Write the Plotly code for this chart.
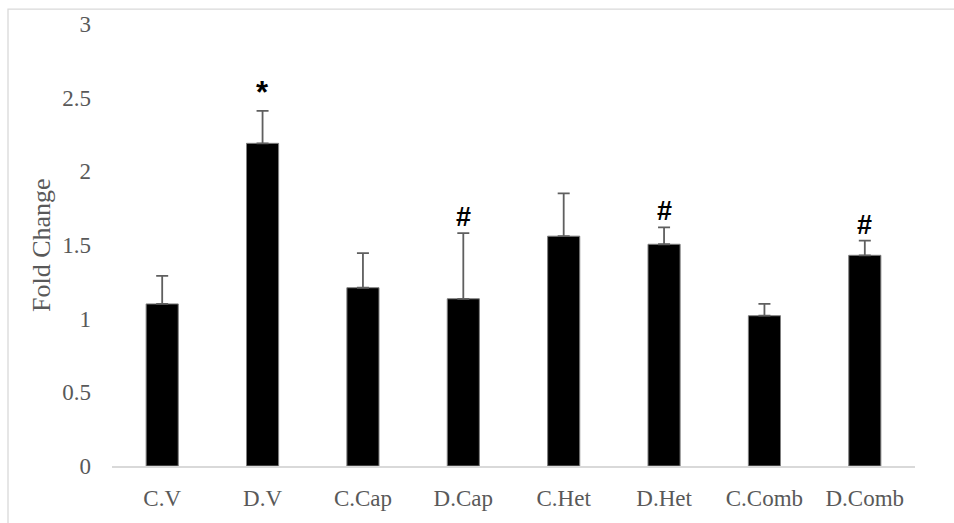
import plotly.graph_objects as go

# Group labels and measured fold change (mean and upper error)
groups = ["C.V", "D.V", "C.Cap", "D.Cap", "C.Het", "D.Het", "C.Comb", "D.Comb"]
fold_change = [1.10, 2.19, 1.21, 1.135, 1.56, 1.505, 1.02, 1.43]
error_up = [0.19, 0.22, 0.235, 0.445, 0.29, 0.115, 0.08, 0.10]
# Significance marks shown above each bar ("" = none)
marks = ["", "*", "", "#", "", "#", "", "#"]

y_ticks = [0, 0.5, 1, 1.5, 2, 2.5, 3]
y_tick_text = ["0", "0.5", "1", "1.5", "2", "2.5", "3"]

W, H = 954, 523
ML, MR, MT, MB = 112, 39, 24, 55
pw, ph = W - ML - MR, H - MT - MB

serif = "Liberation Serif, Times New Roman, serif"
grey = "#595959"

fig = go.Figure()
fig.add_trace(go.Bar(
    x=groups,
    y=fold_change,
    marker=dict(color="#000000", line=dict(color="#7f7f7f", width=1)),
    error_y=dict(
        type="data", symmetric=False, array=error_up,
        arrayminus=[0] * len(error_up),
        color="#5f5f5f", thickness=1.8, width=6,
    ),
    hoverinfo="x+y",
))

# Significance symbols sit just above the error bar caps
for g, v, e, m in zip(groups, fold_change, error_up, marks):
    if not m:
        continue
    fig.add_annotation(
        x=g, y=v + e, text=f"<b>{m}</b>", showarrow=False,
        yanchor="bottom", yshift=-1 if m == "#" else -1,
        font=dict(family="Liberation Sans, Arial, sans-serif", size=27 if m == "#" else 31, color="#000000"),
    )

# Y axis title
fig.add_annotation(
    xref="paper", yref="paper", x=(41 - ML) / pw, y=0.5,
    text="Fold Change", textangle=-90, showarrow=False,
    xanchor="center", yanchor="middle",
    font=dict(family=serif, size=26, color=grey),
)

# Light chart frame
fig.add_shape(
    type="rect", xref="paper", yref="paper",
    x0=(8 - ML) / pw, x1=(W + 10 - ML) / pw,
    y0=-(MB + 10) / ph, y1=(H - MB - 9) / ph,
    line=dict(color="#d9d9d9", width=1.3), fillcolor="rgba(0,0,0,0)",
    layer="below",
)

fig.update_layout(
    width=W, height=H,
    margin=dict(l=ML, r=MR, t=MT, b=MB),
    paper_bgcolor="white", plot_bgcolor="white",
    bargap=0.68, showlegend=False,
    xaxis=dict(
        showline=True, linecolor="#d9d9d9", linewidth=1.5,
        showgrid=False, zeroline=False, ticks="",
        tickfont=dict(family=serif, size=23, color=grey),
        ticklabelstandoff=11,
    ),
    yaxis=dict(
        range=[0, 3], tickvals=y_ticks, ticktext=y_tick_text,
        showline=False, showgrid=False, zeroline=False, ticks="",
        tickfont=dict(family=serif, size=23, color=grey),
        ticklabelstandoff=20,
    ),
)

fig.write_html("out.html")
